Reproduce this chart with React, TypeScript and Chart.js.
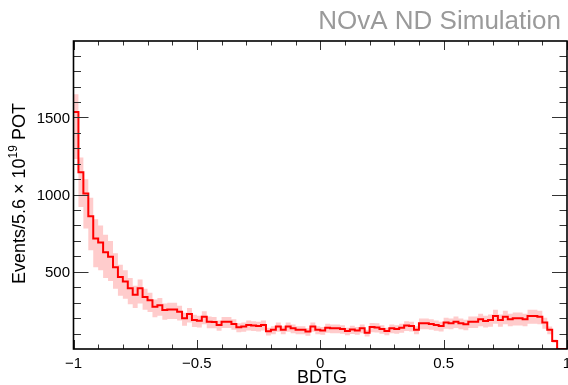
import React, { useEffect, useRef } from 'react';
import { Chart, registerables } from 'chart.js';

Chart.register(...registerables);

// ---- data ----
const X_MIN = -1;
const X_MAX = 1;
const BIN_WIDTH = 0.02;
const Y_MIN = 0;
const Y_MAX = 1995;

// BDTG histogram contents (100 bins from -1 to 1)
const histValues = [
  1535, 1145, 1008, 860, 715, 690, 626, 598, 530, 466,
  438, 393, 352, 393, 337, 316, 273, 284, 252, 256,
  256, 241, 199, 226, 188, 183, 209, 177, 175, 156,
  177, 177, 162, 141, 145, 156, 152, 149, 156, 115,
  124, 145, 124, 145, 134, 124, 124, 113, 145, 124,
  120, 138, 134, 134, 130, 117, 127, 120, 134, 106,
  142, 140, 130, 117, 134, 130, 138, 152, 149, 124,
  167, 167, 162, 156, 149, 171, 167, 177, 167, 160,
  177, 177, 192, 182, 188, 214, 188, 209, 192, 199,
  199, 192, 214, 214, 209, 171, 124, 52, 0, 0,
];

// upper edge of the systematic error band
const bandHigh = [
  1650, 1240, 1100, 980, 840, 800, 740, 700, 620, 545,
  510, 460, 410, 450, 390, 365, 320, 330, 295, 300,
  300, 280, 235, 265, 222, 216, 245, 210, 207, 185,
  208, 208, 192, 167, 172, 184, 180, 176, 184, 137,
  147, 171, 147, 171, 158, 147, 147, 134, 171, 147,
  142, 163, 158, 158, 154, 138, 150, 142, 158, 125,
  168, 166, 154, 138, 158, 154, 163, 180, 176, 147,
  198, 198, 192, 185, 176, 203, 198, 210, 198, 190,
  210, 210, 228, 216, 223, 254, 223, 248, 228, 236,
  236, 228, 254, 254, 248, 203, 146, 61, 0, 0,
];

// lower edge of the systematic error band
const bandLow = [
  1230, 920, 780, 640, 530, 510, 460, 440, 390, 345,
  325, 290, 265, 295, 255, 240, 205, 215, 190, 195,
  195, 185, 150, 172, 143, 140, 160, 135, 134, 118,
  136, 136, 124, 108, 111, 120, 116, 114, 120, 88,
  95, 111, 95, 111, 102, 95, 95, 86, 111, 95,
  92, 106, 102, 102, 99, 89, 97, 92, 102, 81,
  109, 107, 99, 89, 102, 99, 106, 116, 114, 95,
  128, 128, 124, 119, 114, 131, 128, 136, 128, 122,
  136, 136, 147, 140, 144, 164, 144, 160, 147, 153,
  153, 147, 164, 164, 160, 131, 95, 40, 0, 0,
];

const xMajorTicks = [-1, -0.5, 0, 0.5, 1];
const xTickLabels = ['\u22121', '\u22120.5', '0', '0.5', '1'];
const xMinorTicks = [-0.9, -0.8, -0.7, -0.6, -0.4, -0.3, -0.2, -0.1, 0.1, 0.2, 0.3, 0.4, 0.6, 0.7, 0.8, 0.9];
const yMajorTicks = [500, 1000, 1500];
const yTickLabels = ['500', '1000', '1500'];
const yMinorTicks = [100, 200, 300, 400, 600, 700, 800, 900, 1100, 1200, 1300, 1400, 1600, 1700, 1800, 1900];

const headerText = 'NOvA ND Simulation';
const xTitle = 'BDTG';
const yTitleMain = 'Events/5.6 \u00d7 10';
const yTitleSup = '19';
const yTitleEnd = ' POT';

const FONT = '"Liberation Sans", Arial, Helvetica, sans-serif';

function stepPoints(vals: number[]) {
  const pts = vals.map((v, i) => ({ x: X_MIN + i * BIN_WIDTH, y: v }));
  pts.push({ x: X_MAX, y: vals[vals.length - 1] });
  return pts;
}

const rootAxesPlugin = {
  id: 'rootAxes',
  afterDatasetsDraw(chart: any) {
    const { ctx, chartArea: a, scales } = chart;
    const xs = scales.x;
    const ys = scales.y;
    ctx.save();
    // ticks
    ctx.strokeStyle = '#333';
    ctx.lineWidth = 1;
    const xMajLen = 9, xMinLen = 4.5, yMajLen = 15, yMinLen = 7.5;
    const drawX = (v: number, len: number) => {
      const px = Math.round(xs.getPixelForValue(v)) + 0.5;
      ctx.beginPath();
      ctx.moveTo(px, a.bottom);
      ctx.lineTo(px, a.bottom - len);
      ctx.moveTo(px, a.top);
      ctx.lineTo(px, a.top + len);
      ctx.stroke();
    };
    const drawY = (v: number, len: number) => {
      const py = Math.round(ys.getPixelForValue(v)) + 0.5;
      ctx.beginPath();
      ctx.moveTo(a.left, py);
      ctx.lineTo(a.left + len, py);
      ctx.moveTo(a.right, py);
      ctx.lineTo(a.right - len, py);
      ctx.stroke();
    };
    xMajorTicks.forEach((v) => drawX(v, xMajLen));
    xMinorTicks.forEach((v) => drawX(v, xMinLen));
    yMajorTicks.forEach((v) => drawY(v, yMajLen));
    yMinorTicks.forEach((v) => drawY(v, yMinLen));

    // frame
    ctx.strokeStyle = '#000';
    ctx.lineWidth = 1.6;
    ctx.strokeRect(a.left, a.top, a.right - a.left, a.bottom - a.top);

    // tick labels
    ctx.fillStyle = '#000';
    ctx.font = `15px ${FONT}`;
    ctx.textBaseline = 'alphabetic';
    ctx.textAlign = 'center';
    xMajorTicks.forEach((v, i) => {
      ctx.fillText(xTickLabels[i], xs.getPixelForValue(v), 368);
    });
    ctx.textAlign = 'right';
    yMajorTicks.forEach((v, i) => {
      ctx.fillText(yTickLabels[i], a.left - 3.5, ys.getPixelForValue(v) + 5.4);
    });

    // x title
    ctx.font = `18px ${FONT}`;
    ctx.textAlign = 'center';
    ctx.fillText(xTitle, 322, 383);

    // y title (rotated, with superscript)
    const mainFont = `18px ${FONT}`;
    const supFont = `12px ${FONT}`;
    ctx.font = mainFont;
    const w1 = ctx.measureText(yTitleMain).width;
    const w3 = ctx.measureText(yTitleEnd).width;
    ctx.font = supFont;
    const w2 = ctx.measureText(yTitleSup).width;
    const total = w1 + w2 + w3;
    ctx.translate(24.5, 193.5);
    ctx.rotate(-Math.PI / 2);
    ctx.textAlign = 'left';
    let x0 = -total / 2;
    ctx.font = mainFont;
    ctx.fillText(yTitleMain, x0, 0);
    x0 += w1;
    ctx.font = supFont;
    ctx.fillText(yTitleSup, x0, -8);
    x0 += w2;
    ctx.font = mainFont;
    ctx.fillText(yTitleEnd, x0, 0);
    ctx.setTransform(1, 0, 0, 1, 0, 0);

    // header
    ctx.fillStyle = '#9a9a9a';
    ctx.font = `26px ${FONT}`;
    ctx.textAlign = 'right';
    ctx.fillText(headerText, 561, 29);
    ctx.restore();
  },
};

export default function App() {
  const ref = useRef<HTMLCanvasElement | null>(null);
  useEffect(() => {
    document.body.style.margin = '0';
    const canvas = ref.current;
    if (!canvas) return;
    const chart = new Chart(canvas, {
      type: 'line',
      data: {
        datasets: [
          {
            label: 'hist',
            data: stepPoints(histValues),
            borderColor: 'rgb(255,0,0)',
            borderWidth: 2,
            stepped: 'before',
            pointRadius: 0,
            fill: false,
            borderJoinStyle: 'miter',
            borderCapStyle: 'butt',
          },
          {
            label: 'bandHigh',
            data: stepPoints(bandHigh),
            borderColor: 'transparent',
            borderWidth: 0,
            stepped: 'before',
            pointRadius: 0,
            backgroundColor: 'rgb(255,204,204)',
            fill: '+1',
          },
          {
            label: 'bandLow',
            data: stepPoints(bandLow),
            borderColor: 'transparent',
            borderWidth: 0,
            stepped: 'before',
            pointRadius: 0,
            fill: false,
          },
        ],
      } as any,
      options: {
        animation: false,
        responsive: false,
        devicePixelRatio: 1,
        parsing: false,
        layout: { padding: { left: 73.5, top: 41, right: 1, bottom: 36 } },
        plugins: {
          legend: { display: false },
          tooltip: { enabled: false },
          title: { display: false },
        },
        scales: {
          x: { type: 'linear', display: false, min: X_MIN, max: X_MAX },
          y: { type: 'linear', display: false, min: Y_MIN, max: Y_MAX },
        },
      } as any,
      plugins: [rootAxesPlugin],
    });
    return () => chart.destroy();
  }, []);
  return (
    <div style={{ width: 568, height: 385 }}>
      <canvas ref={ref} width={568} height={385} style={{ display: 'block', width: 568, height: 385 }} />
    </div>
  );
}
